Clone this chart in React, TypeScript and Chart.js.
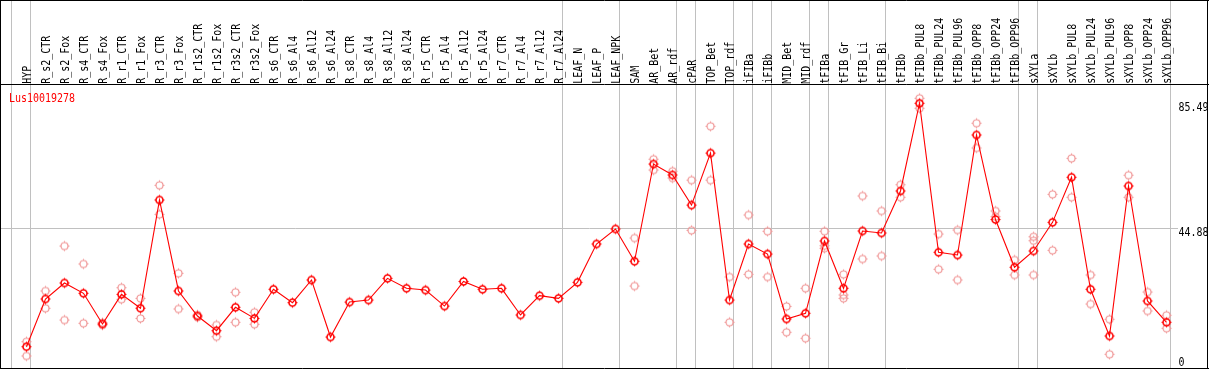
import React, { useEffect, useRef } from 'react';
import { Chart, registerables } from 'chart.js';

Chart.register(...registerables);

const seriesName = 'Lus10019278';

const categories = [
  'HYP', 'R_s2_CTR', 'R_s2_Fox', 'R_s4_CTR', 'R_s4_Fox', 'R_r1_CTR', 'R_r1_Fox', 'R_r3_CTR', 'R_r3_Fox',
  'R_r1s2_CTR', 'R_r1s2_Fox', 'R_r3s2_CTR', 'R_r3s2_Fox', 'R_s6_CTR', 'R_s6_Al4', 'R_s6_Al12', 'R_s6_Al24',
  'R_s8_CTR', 'R_s8_Al4', 'R_s8_Al12', 'R_s8_Al24', 'R_r5_CTR', 'R_r5_Al4', 'R_r5_Al12', 'R_r5_Al24',
  'R_r7_CTR', 'R_r7_Al4', 'R_r7_Al12', 'R_r7_Al24', 'LEAF_N', 'LEAF_P', 'LEAF_NPK', 'SAM', 'AR_Bet', 'AR_rdf',
  'cPAR', 'TOP_Bet', 'TOP_rdf', 'iFIBa', 'iFIBb', 'MID_Bet', 'MID_rdf', 'tFIBa', 'tFIB_Gr', 'tFIB_Li', 'tFIB_Bi',
  'tFIBb', 'tFIBb_PUL8', 'tFIBb_PUL24', 'tFIBb_PUL96', 'tFIBb_OPP8', 'tFIBb_OPP24', 'tFIBb_OPP96',
  'sXYLa', 'sXYLb', 'sXYLb_PUL8', 'sXYLb_PUL24', 'sXYLb_PUL96', 'sXYLb_OPP8', 'sXYLb_OPP24', 'sXYLb_OPP96',
];

const meanValues = [
  6.40, 21.9, 27.1, 23.75, 13.78, 23.4, 18.9, 54.06, 24.5, 16.37,
  11.6, 19.2, 15.6, 25.05, 20.7, 28.07, 9.55, 20.9, 21.57, 28.6,
  25.37, 24.8, 19.6, 27.6, 25.05, 25.37, 16.7, 22.97, 22.1, 27.3,
  39.77, 44.64, 34.15, 65.75, 62.2, 52.4, 69.3, 21.57, 39.77, 36.5,
  15.4, 17.25, 40.74, 25.37, 43.99, 43.34, 56.99, 85.49, 37.07, 36.19,
  75.18, 47.72, 32.2, 37.5, 46.8, 61.44, 25.05, 9.88, 58.61, 21.25, 14.33,
];

const N = null;
const rep1 = [
  8.02, 24.5, 39.1, 33.27, 13.45, 25.57, 22.1, 58.84, 30.25, 16.7,
  13.45, 24.07, 17.58, N, N, N, N, N, N, N,
  N, N, N, N, N, N, N, N, N, N,
  N, N, 41.7, 67.3, 63.4, 60.5, 78.0, 29.05, 49.2, 43.9,
  19.5, 25.37, 43.9, 29.9, 55.36, 50.5, 59.03, 87.1, 43.0, 44.3,
  79.0, 50.5, 34.57, 42.1, 55.9, 67.6, 29.7, 15.3, 62.1, 24.17, 16.6,
];
const rep2 = [
  3.38, 18.88, 15.07, 14.0, 14.2, 21.8, 15.6, 49.4, 18.65, 15.95,
  9.65, 14.33, 13.68, N, N, N, N, N, N, N,
  N, N, N, N, N, N, N, N, N, N,
  N, N, 26.1, 63.8, 61.2, 44.2, 60.5, 14.33, 29.9, 29.05,
  11.08, 9.13, 38.37, 22.1, 34.9, 35.87, 54.94, 83.85, 31.55, 28.07,
  70.96, 48.64, 29.7, 40.84, 37.7, 54.94, 20.27, 3.93, 54.94, 18.0, 12.38,
];
const rep3 = [
  N, N, N, N, N, N, N, N, N, N,
  N, N, N, N, N, N, N, N, N, N,
  N, N, N, N, N, N, N, N, N, N,
  N, N, N, N, N, N, N, N, N, N,
  N, N, 39.2, 23.2, N, N, N, N, N, N,
  N, N, N, 29.7, N, N, N, N, N, N, N,
];

const yTickValues = [0, 44.88, 85.49];
const yTickLabels = ['0', '44.88', '85.49'];
const gridValues = [44.88];
// category index after which a vertical group separator is drawn
const groupBreaks = [-1, 0, 28, 31, 34, 35, 37, 38, 39, 41, 42, 45, 52, 53, 60];

const FONT = '11.5px "DejaVu Sans Mono", "Liberation Mono", monospace';
const SQUEEZE = 0.867;

function makeMarker(color: string, lw: number): HTMLCanvasElement {
  const c = document.createElement('canvas');
  c.width = 15;
  c.height = 15;
  const g = c.getContext('2d')!;
  g.strokeStyle = color;
  g.lineWidth = lw;
  g.beginPath();
  g.arc(7.5, 7.5, 3.5, 0, Math.PI * 2);
  g.stroke();
  g.lineWidth = 1;
  g.beginPath();
  g.moveTo(7.5, 2.5); g.lineTo(7.5, 4);
  g.moveTo(7.5, 11); g.lineTo(7.5, 12.5);
  g.moveTo(2.5, 7.5); g.lineTo(4, 7.5);
  g.moveTo(11, 7.5); g.lineTo(12.5, 7.5);
  g.stroke();
  return c;
}

const framePlugin = {
  id: 'frame',
  beforeDraw(chart: any) {
    const { ctx, width, height } = chart;
    ctx.save();
    ctx.fillStyle = '#ffffff';
    ctx.fillRect(0, 0, width, height);
    ctx.restore();
  },
  beforeDatasetsDraw(chart: any) {
    const { ctx } = chart;
    const xs = chart.scales.x;
    ctx.save();
    ctx.strokeStyle = '#c0c0c0';
    ctx.lineWidth = 1;
    ctx.beginPath();
    groupBreaks.forEach((k) => {
      const px = Math.round(xs.getPixelForValue(k + 0.19)) + 0.5;
      ctx.moveTo(px, 0);
      ctx.lineTo(px, 369);
    });
    ctx.stroke();
    ctx.restore();
  },
  afterDraw(chart: any) {
    const { ctx, width } = chart;
    const xs = chart.scales.x;
    const ys = chart.scales.y;
    ctx.save();
    // frame
    ctx.strokeStyle = '#000000';
    ctx.lineWidth = 1;
    ctx.beginPath();
    ctx.moveTo(0.5, 0); ctx.lineTo(0.5, 369);
    ctx.moveTo(0, 0.5); ctx.lineTo(width, 0.5);
    ctx.moveTo(width - 1.5, 0); ctx.lineTo(width - 1.5, 369);
    ctx.moveTo(0, 84.5); ctx.lineTo(width, 84.5);
    ctx.moveTo(0, 368.5); ctx.lineTo(width, 368.5);
    ctx.stroke();

    ctx.font = FONT;
    ctx.fillStyle = '#000000';
    ctx.textAlign = 'left';
    ctx.textBaseline = 'alphabetic';
    // category labels, rotated
    categories.forEach((label, i) => {
      const px = xs.getPixelForValue(i);
      ctx.save();
      ctx.translate(px + 4.2, 83.8);
      ctx.rotate(-Math.PI / 2);
      ctx.scale(SQUEEZE, 1);
      ctx.fillText(label, 0, 0);
      ctx.restore();
    });
    // y tick labels on the right
    yTickValues.forEach((v, i) => {
      const py = Math.min(ys.getPixelForValue(v) + 7.6, 365.5);
      ctx.save();
      ctx.translate(1178.5, py);
      ctx.scale(SQUEEZE, 1);
      ctx.fillText(yTickLabels[i], 0, 0);
      ctx.restore();
    });
    // series name
    ctx.fillStyle = '#ff0000';
    ctx.save();
    ctx.translate(9, 101.6);
    ctx.scale(SQUEEZE, 1);
    ctx.fillText(seriesName, 0, 0);
    ctx.restore();
    ctx.restore();
  },
};

export default function App() {
  const ref = useRef<HTMLCanvasElement | null>(null);

  useEffect(() => {
    document.body.style.margin = '0';
    const canvas = ref.current!;
    const mainMarker = makeMarker('#ff0000', 1.6);
    const repMarker = makeMarker('rgb(240,150,150)', 1.2);

    const mainData = meanValues.map((v, i) => ({ x: i, y: v }));
    const repData: { x: number; y: number }[] = [];
    [rep1, rep2, rep3].forEach((arr) => {
      arr.forEach((v, i) => {
        if (v !== null && v !== undefined) repData.push({ x: i, y: v as number });
      });
    });

    const chart = new Chart(canvas, {
      type: 'line',
      data: {
        datasets: [
          {
            label: seriesName,
            data: mainData,
            borderColor: '#ff0000',
            borderWidth: 1.1,
            pointStyle: mainMarker as any,
            pointRadius: 4,
            pointHoverRadius: 4,
            fill: false,
            tension: 0,
            order: 0,
          },
          {
            label: 'replicates',
            data: repData,
            showLine: false,
            borderColor: 'rgb(240,150,150)',
            pointStyle: repMarker as any,
            pointRadius: 4,
            pointHoverRadius: 4,
            order: 1,
          },
        ],
      },
      options: {
        animation: false,
        responsive: false,
        maintainAspectRatio: false,
        devicePixelRatio: 1,
        events: [],
        layout: { autoPadding: false, padding: { left: 1, right: 31, top: 85, bottom: 2 } },
        plugins: { legend: { display: false }, tooltip: { enabled: false }, title: { display: false } },
        scales: {
          x: {
            type: 'linear',
            display: false,
            min: -1.342,
            max: 60.605,
          },
          y: {
            type: 'linear',
            position: 'right',
            min: -0.52,
            max: 91.42,
            border: { display: false },
            ticks: { display: false },
            grid: { color: '#c0c0c0', lineWidth: 1, drawTicks: false },
            afterBuildTicks: (s: any) => {
              s.ticks = gridValues.map((v) => ({ value: v }));
            },
            afterFit: (s: any) => {
              s.width = 0;
            },
          },
        },
      },
      plugins: [framePlugin],
    });
    return () => chart.destroy();
  }, []);

  return (
    <canvas
      ref={ref}
      width={1209}
      height={370}
      style={{ display: 'block', width: '1209px', height: '370px' }}
    />
  );
}
